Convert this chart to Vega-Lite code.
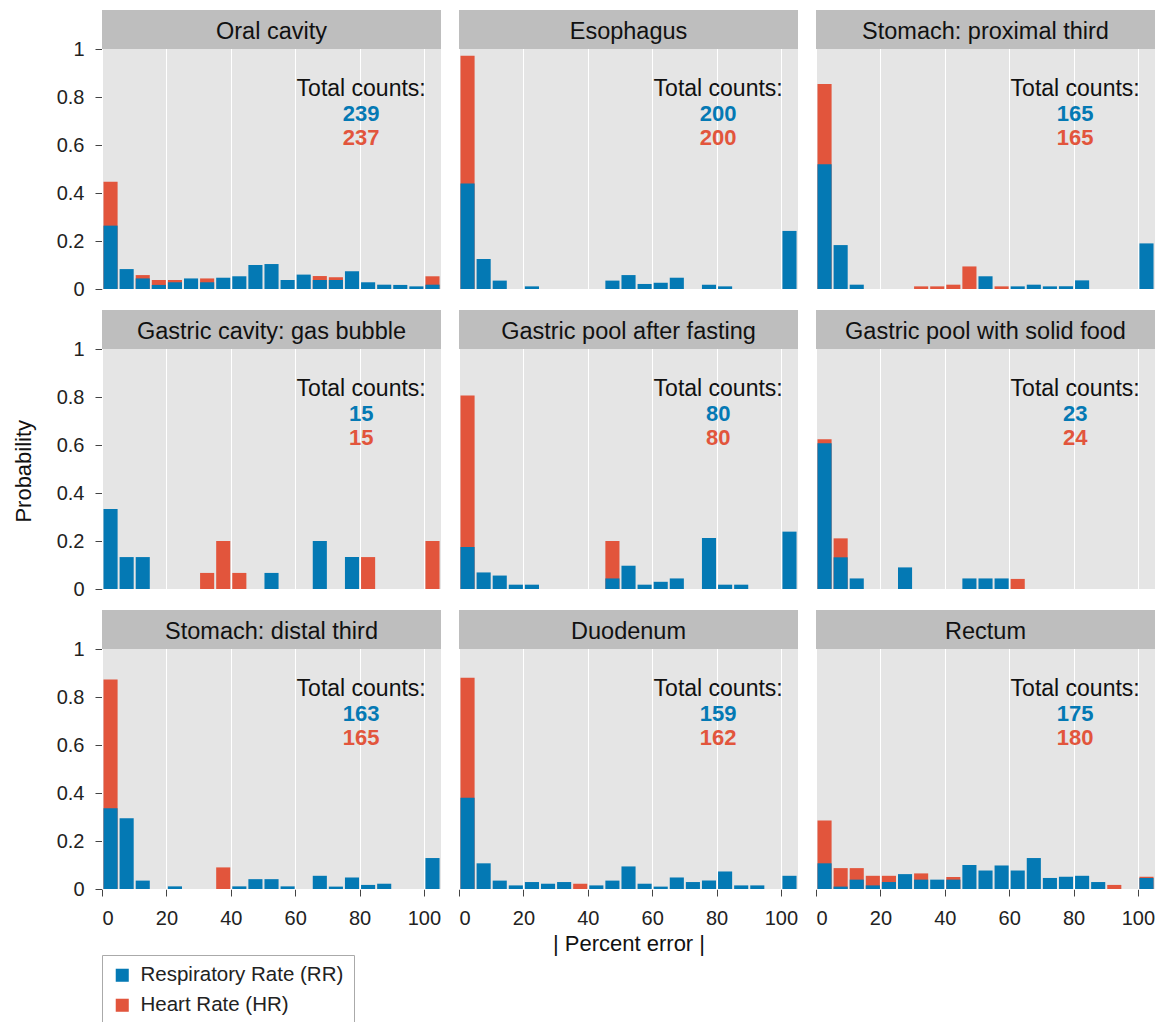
{
  "$schema": "https://vega.github.io/schema/vega-lite/v6.json",
  "padding": {"left": 13, "top": 10, "right": 0, "bottom": 0},
  "background": "white",
  "title": {"text": "Probability", "orient": "left", "anchor": "middle", "fontSize": 22, "fontWeight": "normal", "font": "Liberation Sans", "color": "#111", "offset": 20, "dx": 47},
  "data": {"values": [
    {"panel": "Oral cavity", "rr": 239, "hr": 237},
    {"panel": "Esophagus", "rr": 200, "hr": 200},
    {"panel": "Stomach: proximal third", "rr": 165, "hr": 165},
    {"panel": "Gastric cavity: gas bubble", "rr": 15, "hr": 15},
    {"panel": "Gastric pool after fasting", "rr": 80, "hr": 80},
    {"panel": "Gastric pool with solid food", "rr": 23, "hr": 24},
    {"panel": "Stomach: distal third", "rr": 163, "hr": 165},
    {"panel": "Duodenum", "rr": 159, "hr": 162},
    {"panel": "Rectum", "rr": 175, "hr": 180},

    {"panel": "Oral cavity", "s": "HR", "b": 0, "e": 5, "p": 0.447},
    {"panel": "Oral cavity", "s": "HR", "b": 10, "e": 15, "p": 0.058},
    {"panel": "Oral cavity", "s": "HR", "b": 15, "e": 20, "p": 0.0375},
    {"panel": "Oral cavity", "s": "HR", "b": 20, "e": 25, "p": 0.0375},
    {"panel": "Oral cavity", "s": "HR", "b": 30, "e": 35, "p": 0.044},
    {"panel": "Oral cavity", "s": "HR", "b": 65, "e": 70, "p": 0.054},
    {"panel": "Oral cavity", "s": "HR", "b": 70, "e": 75, "p": 0.049},
    {"panel": "Oral cavity", "s": "HR", "b": 100, "e": 105, "p": 0.053},
    {"panel": "Oral cavity", "s": "RR", "b": 0, "e": 5, "p": 0.264},
    {"panel": "Oral cavity", "s": "RR", "b": 5, "e": 10, "p": 0.083},
    {"panel": "Oral cavity", "s": "RR", "b": 10, "e": 15, "p": 0.044},
    {"panel": "Oral cavity", "s": "RR", "b": 15, "e": 20, "p": 0.017},
    {"panel": "Oral cavity", "s": "RR", "b": 20, "e": 25, "p": 0.028},
    {"panel": "Oral cavity", "s": "RR", "b": 25, "e": 30, "p": 0.044},
    {"panel": "Oral cavity", "s": "RR", "b": 30, "e": 35, "p": 0.028},
    {"panel": "Oral cavity", "s": "RR", "b": 35, "e": 40, "p": 0.047},
    {"panel": "Oral cavity", "s": "RR", "b": 40, "e": 45, "p": 0.053},
    {"panel": "Oral cavity", "s": "RR", "b": 45, "e": 50, "p": 0.1},
    {"panel": "Oral cavity", "s": "RR", "b": 50, "e": 55, "p": 0.104},
    {"panel": "Oral cavity", "s": "RR", "b": 55, "e": 60, "p": 0.0375},
    {"panel": "Oral cavity", "s": "RR", "b": 60, "e": 65, "p": 0.06},
    {"panel": "Oral cavity", "s": "RR", "b": 65, "e": 70, "p": 0.0375},
    {"panel": "Oral cavity", "s": "RR", "b": 70, "e": 75, "p": 0.0375},
    {"panel": "Oral cavity", "s": "RR", "b": 75, "e": 80, "p": 0.074},
    {"panel": "Oral cavity", "s": "RR", "b": 80, "e": 85, "p": 0.028},
    {"panel": "Oral cavity", "s": "RR", "b": 85, "e": 90, "p": 0.018},
    {"panel": "Oral cavity", "s": "RR", "b": 90, "e": 95, "p": 0.017},
    {"panel": "Oral cavity", "s": "RR", "b": 95, "e": 100, "p": 0.011},
    {"panel": "Oral cavity", "s": "RR", "b": 100, "e": 105, "p": 0.018},

    {"panel": "Esophagus", "s": "HR", "b": 0, "e": 5, "p": 0.972},
    {"panel": "Esophagus", "s": "RR", "b": 0, "e": 5, "p": 0.44},
    {"panel": "Esophagus", "s": "RR", "b": 5, "e": 10, "p": 0.125},
    {"panel": "Esophagus", "s": "RR", "b": 10, "e": 15, "p": 0.035},
    {"panel": "Esophagus", "s": "RR", "b": 20, "e": 25, "p": 0.011},
    {"panel": "Esophagus", "s": "RR", "b": 45, "e": 50, "p": 0.035},
    {"panel": "Esophagus", "s": "RR", "b": 50, "e": 55, "p": 0.058},
    {"panel": "Esophagus", "s": "RR", "b": 55, "e": 60, "p": 0.021},
    {"panel": "Esophagus", "s": "RR", "b": 60, "e": 65, "p": 0.026},
    {"panel": "Esophagus", "s": "RR", "b": 65, "e": 70, "p": 0.047},
    {"panel": "Esophagus", "s": "RR", "b": 75, "e": 80, "p": 0.018},
    {"panel": "Esophagus", "s": "RR", "b": 80, "e": 85, "p": 0.011},
    {"panel": "Esophagus", "s": "RR", "b": 100, "e": 105, "p": 0.242},

    {"panel": "Stomach: proximal third", "s": "HR", "b": 0, "e": 5, "p": 0.854},
    {"panel": "Stomach: proximal third", "s": "HR", "b": 30, "e": 35, "p": 0.011},
    {"panel": "Stomach: proximal third", "s": "HR", "b": 35, "e": 40, "p": 0.011},
    {"panel": "Stomach: proximal third", "s": "HR", "b": 40, "e": 45, "p": 0.018},
    {"panel": "Stomach: proximal third", "s": "HR", "b": 45, "e": 50, "p": 0.094},
    {"panel": "Stomach: proximal third", "s": "HR", "b": 55, "e": 60, "p": 0.011},
    {"panel": "Stomach: proximal third", "s": "RR", "b": 0, "e": 5, "p": 0.52},
    {"panel": "Stomach: proximal third", "s": "RR", "b": 5, "e": 10, "p": 0.183},
    {"panel": "Stomach: proximal third", "s": "RR", "b": 10, "e": 15, "p": 0.018},
    {"panel": "Stomach: proximal third", "s": "RR", "b": 50, "e": 55, "p": 0.053},
    {"panel": "Stomach: proximal third", "s": "RR", "b": 60, "e": 65, "p": 0.011},
    {"panel": "Stomach: proximal third", "s": "RR", "b": 65, "e": 70, "p": 0.018},
    {"panel": "Stomach: proximal third", "s": "RR", "b": 70, "e": 75, "p": 0.011},
    {"panel": "Stomach: proximal third", "s": "RR", "b": 75, "e": 80, "p": 0.011},
    {"panel": "Stomach: proximal third", "s": "RR", "b": 80, "e": 85, "p": 0.036},
    {"panel": "Stomach: proximal third", "s": "RR", "b": 100, "e": 105, "p": 0.19},

    {"panel": "Gastric cavity: gas bubble", "s": "HR", "b": 30, "e": 35, "p": 0.067},
    {"panel": "Gastric cavity: gas bubble", "s": "HR", "b": 35, "e": 40, "p": 0.2},
    {"panel": "Gastric cavity: gas bubble", "s": "HR", "b": 40, "e": 45, "p": 0.067},
    {"panel": "Gastric cavity: gas bubble", "s": "HR", "b": 80, "e": 85, "p": 0.133},
    {"panel": "Gastric cavity: gas bubble", "s": "HR", "b": 100, "e": 105, "p": 0.2},
    {"panel": "Gastric cavity: gas bubble", "s": "RR", "b": 0, "e": 5, "p": 0.333},
    {"panel": "Gastric cavity: gas bubble", "s": "RR", "b": 5, "e": 10, "p": 0.133},
    {"panel": "Gastric cavity: gas bubble", "s": "RR", "b": 10, "e": 15, "p": 0.133},
    {"panel": "Gastric cavity: gas bubble", "s": "RR", "b": 50, "e": 55, "p": 0.067},
    {"panel": "Gastric cavity: gas bubble", "s": "RR", "b": 65, "e": 70, "p": 0.2},
    {"panel": "Gastric cavity: gas bubble", "s": "RR", "b": 75, "e": 80, "p": 0.133},

    {"panel": "Gastric pool after fasting", "s": "HR", "b": 0, "e": 5, "p": 0.806},
    {"panel": "Gastric pool after fasting", "s": "HR", "b": 45, "e": 50, "p": 0.2},
    {"panel": "Gastric pool after fasting", "s": "RR", "b": 0, "e": 5, "p": 0.175},
    {"panel": "Gastric pool after fasting", "s": "RR", "b": 5, "e": 10, "p": 0.069},
    {"panel": "Gastric pool after fasting", "s": "RR", "b": 10, "e": 15, "p": 0.056},
    {"panel": "Gastric pool after fasting", "s": "RR", "b": 15, "e": 20, "p": 0.018},
    {"panel": "Gastric pool after fasting", "s": "RR", "b": 20, "e": 25, "p": 0.018},
    {"panel": "Gastric pool after fasting", "s": "RR", "b": 45, "e": 50, "p": 0.044},
    {"panel": "Gastric pool after fasting", "s": "RR", "b": 50, "e": 55, "p": 0.097},
    {"panel": "Gastric pool after fasting", "s": "RR", "b": 55, "e": 60, "p": 0.018},
    {"panel": "Gastric pool after fasting", "s": "RR", "b": 60, "e": 65, "p": 0.03},
    {"panel": "Gastric pool after fasting", "s": "RR", "b": 65, "e": 70, "p": 0.044},
    {"panel": "Gastric pool after fasting", "s": "RR", "b": 75, "e": 80, "p": 0.2125},
    {"panel": "Gastric pool after fasting", "s": "RR", "b": 80, "e": 85, "p": 0.018},
    {"panel": "Gastric pool after fasting", "s": "RR", "b": 85, "e": 90, "p": 0.018},
    {"panel": "Gastric pool after fasting", "s": "RR", "b": 100, "e": 105, "p": 0.239},

    {"panel": "Gastric pool with solid food", "s": "HR", "b": 0, "e": 5, "p": 0.624},
    {"panel": "Gastric pool with solid food", "s": "HR", "b": 5, "e": 10, "p": 0.211},
    {"panel": "Gastric pool with solid food", "s": "HR", "b": 60, "e": 65, "p": 0.042},
    {"panel": "Gastric pool with solid food", "s": "RR", "b": 0, "e": 5, "p": 0.607},
    {"panel": "Gastric pool with solid food", "s": "RR", "b": 5, "e": 10, "p": 0.132},
    {"panel": "Gastric pool with solid food", "s": "RR", "b": 10, "e": 15, "p": 0.044},
    {"panel": "Gastric pool with solid food", "s": "RR", "b": 25, "e": 30, "p": 0.09},
    {"panel": "Gastric pool with solid food", "s": "RR", "b": 45, "e": 50, "p": 0.044},
    {"panel": "Gastric pool with solid food", "s": "RR", "b": 50, "e": 55, "p": 0.044},
    {"panel": "Gastric pool with solid food", "s": "RR", "b": 55, "e": 60, "p": 0.044},

    {"panel": "Stomach: distal third", "s": "HR", "b": 0, "e": 5, "p": 0.873},
    {"panel": "Stomach: distal third", "s": "HR", "b": 35, "e": 40, "p": 0.09},
    {"panel": "Stomach: distal third", "s": "RR", "b": 0, "e": 5, "p": 0.336},
    {"panel": "Stomach: distal third", "s": "RR", "b": 5, "e": 10, "p": 0.295},
    {"panel": "Stomach: distal third", "s": "RR", "b": 10, "e": 15, "p": 0.035},
    {"panel": "Stomach: distal third", "s": "RR", "b": 20, "e": 25, "p": 0.011},
    {"panel": "Stomach: distal third", "s": "RR", "b": 40, "e": 45, "p": 0.011},
    {"panel": "Stomach: distal third", "s": "RR", "b": 45, "e": 50, "p": 0.041},
    {"panel": "Stomach: distal third", "s": "RR", "b": 50, "e": 55, "p": 0.041},
    {"panel": "Stomach: distal third", "s": "RR", "b": 55, "e": 60, "p": 0.011},
    {"panel": "Stomach: distal third", "s": "RR", "b": 65, "e": 70, "p": 0.055},
    {"panel": "Stomach: distal third", "s": "RR", "b": 70, "e": 75, "p": 0.01},
    {"panel": "Stomach: distal third", "s": "RR", "b": 75, "e": 80, "p": 0.048},
    {"panel": "Stomach: distal third", "s": "RR", "b": 80, "e": 85, "p": 0.017},
    {"panel": "Stomach: distal third", "s": "RR", "b": 85, "e": 90, "p": 0.022},
    {"panel": "Stomach: distal third", "s": "RR", "b": 100, "e": 105, "p": 0.129},

    {"panel": "Duodenum", "s": "HR", "b": 0, "e": 5, "p": 0.88},
    {"panel": "Duodenum", "s": "HR", "b": 35, "e": 40, "p": 0.022},
    {"panel": "Duodenum", "s": "RR", "b": 0, "e": 5, "p": 0.38},
    {"panel": "Duodenum", "s": "RR", "b": 5, "e": 10, "p": 0.107},
    {"panel": "Duodenum", "s": "RR", "b": 10, "e": 15, "p": 0.035},
    {"panel": "Duodenum", "s": "RR", "b": 15, "e": 20, "p": 0.015},
    {"panel": "Duodenum", "s": "RR", "b": 20, "e": 25, "p": 0.029},
    {"panel": "Duodenum", "s": "RR", "b": 25, "e": 30, "p": 0.022},
    {"panel": "Duodenum", "s": "RR", "b": 30, "e": 35, "p": 0.029},
    {"panel": "Duodenum", "s": "RR", "b": 40, "e": 45, "p": 0.015},
    {"panel": "Duodenum", "s": "RR", "b": 45, "e": 50, "p": 0.035},
    {"panel": "Duodenum", "s": "RR", "b": 50, "e": 55, "p": 0.094},
    {"panel": "Duodenum", "s": "RR", "b": 55, "e": 60, "p": 0.022},
    {"panel": "Duodenum", "s": "RR", "b": 60, "e": 65, "p": 0.01},
    {"panel": "Duodenum", "s": "RR", "b": 65, "e": 70, "p": 0.048},
    {"panel": "Duodenum", "s": "RR", "b": 70, "e": 75, "p": 0.029},
    {"panel": "Duodenum", "s": "RR", "b": 75, "e": 80, "p": 0.035},
    {"panel": "Duodenum", "s": "RR", "b": 80, "e": 85, "p": 0.073},
    {"panel": "Duodenum", "s": "RR", "b": 85, "e": 90, "p": 0.015},
    {"panel": "Duodenum", "s": "RR", "b": 90, "e": 95, "p": 0.015},
    {"panel": "Duodenum", "s": "RR", "b": 100, "e": 105, "p": 0.055},

    {"panel": "Rectum", "s": "HR", "b": 0, "e": 5, "p": 0.285},
    {"panel": "Rectum", "s": "HR", "b": 5, "e": 10, "p": 0.087},
    {"panel": "Rectum", "s": "HR", "b": 10, "e": 15, "p": 0.087},
    {"panel": "Rectum", "s": "HR", "b": 15, "e": 20, "p": 0.055},
    {"panel": "Rectum", "s": "HR", "b": 20, "e": 25, "p": 0.055},
    {"panel": "Rectum", "s": "HR", "b": 30, "e": 35, "p": 0.065},
    {"panel": "Rectum", "s": "HR", "b": 40, "e": 45, "p": 0.05},
    {"panel": "Rectum", "s": "HR", "b": 90, "e": 95, "p": 0.017},
    {"panel": "Rectum", "s": "HR", "b": 100, "e": 105, "p": 0.051},
    {"panel": "Rectum", "s": "RR", "b": 0, "e": 5, "p": 0.107},
    {"panel": "Rectum", "s": "RR", "b": 5, "e": 10, "p": 0.01},
    {"panel": "Rectum", "s": "RR", "b": 10, "e": 15, "p": 0.039},
    {"panel": "Rectum", "s": "RR", "b": 15, "e": 20, "p": 0.015},
    {"panel": "Rectum", "s": "RR", "b": 20, "e": 25, "p": 0.029},
    {"panel": "Rectum", "s": "RR", "b": 25, "e": 30, "p": 0.062},
    {"panel": "Rectum", "s": "RR", "b": 30, "e": 35, "p": 0.039},
    {"panel": "Rectum", "s": "RR", "b": 35, "e": 40, "p": 0.039},
    {"panel": "Rectum", "s": "RR", "b": 40, "e": 45, "p": 0.039},
    {"panel": "Rectum", "s": "RR", "b": 45, "e": 50, "p": 0.1},
    {"panel": "Rectum", "s": "RR", "b": 50, "e": 55, "p": 0.077},
    {"panel": "Rectum", "s": "RR", "b": 55, "e": 60, "p": 0.098},
    {"panel": "Rectum", "s": "RR", "b": 60, "e": 65, "p": 0.077},
    {"panel": "Rectum", "s": "RR", "b": 65, "e": 70, "p": 0.129},
    {"panel": "Rectum", "s": "RR", "b": 70, "e": 75, "p": 0.046},
    {"panel": "Rectum", "s": "RR", "b": 75, "e": 80, "p": 0.051},
    {"panel": "Rectum", "s": "RR", "b": 80, "e": 85, "p": 0.055},
    {"panel": "Rectum", "s": "RR", "b": 85, "e": 90, "p": 0.029},
    {"panel": "Rectum", "s": "RR", "b": 100, "e": 105, "p": 0.046}
  ]},
  "facet": {
    "field": "panel",
    "type": "nominal",
    "sort": ["Oral cavity", "Esophagus", "Stomach: proximal third", "Gastric cavity: gas bubble", "Gastric pool after fasting", "Gastric pool with solid food", "Stomach: distal third", "Duodenum", "Rectum"],
    "header": {"labels": false, "labelExpr": "''", "labelFontSize": 0, "labelPadding": 0, "title": "| Percent error |", "titleOrient": "bottom", "titleFontSize": 22, "titleFontWeight": "normal", "titleFont": "Liberation Sans", "titleColor": "#111", "titlePadding": 6}
  },
  "columns": 3,
  "spacing": {"row": 21, "column": 18},
  "spec": {
    "width": 339,
    "height": 279,
    "layer": [
      {
        "transform": [{"filter": "isValid(datum.rr)"}],
        "mark": {"type": "rect", "color": "#BEBEBE"},
        "encoding": {
          "x": {"datum": 0, "type": "quantitative"},
          "x2": {"datum": 105.3},
          "y": {"datum": 1, "type": "quantitative"},
          "y2": {"datum": 1.1625}
        }
      },
      {
        "transform": [{"filter": "isValid(datum.rr)"}],
        "mark": {"type": "text", "fontSize": 23.5, "font": "Liberation Sans", "color": "#111", "baseline": "middle", "align": "center"},
        "encoding": {
          "x": {"datum": 52.65, "type": "quantitative"},
          "y": {"datum": 1.072, "type": "quantitative"},
          "text": {"field": "panel"}
        }
      },
      {
        "transform": [{"filter": "datum.s == 'HR'"}],
        "mark": {"type": "bar", "binSpacing": 2},
        "encoding": {
          "x": {"field": "b", "bin": {"binned": true, "step": 5}, "type": "quantitative",
                "scale": {"domain": [0, 105.3], "nice": false, "zero": false},
                "axis": {"values": [0, 20, 40, 60, 80, 100], "title": null, "grid": true}},
          "x2": {"field": "e"},
          "y": {"field": "p", "type": "quantitative", "stack": null,
                "scale": {"domain": [0, 1.1625], "nice": false},
                "axis": {"values": [0, 0.2, 0.4, 0.6, 0.8, 1], "format": "~g", "title": null}},
          "color": {"field": "s", "type": "nominal"}
        }
      },
      {
        "transform": [{"filter": "datum.s == 'RR'"}],
        "mark": {"type": "bar", "binSpacing": 2},
        "encoding": {
          "x": {"field": "b", "bin": {"binned": true, "step": 5}, "type": "quantitative"},
          "x2": {"field": "e"},
          "y": {"field": "p", "type": "quantitative", "stack": null},
          "color": {"field": "s", "type": "nominal",
                    "scale": {"domain": ["RR", "HR"], "range": ["#0479B4", "#E2553C"]},
                    "legend": {"title": null, "orient": "bottom", "direction": "vertical",
                               "labelExpr": "datum.label == 'RR' ? 'Respiratory Rate (RR)' : 'Heart Rate (HR)'"}}
        }
      },
      {
        "transform": [{"filter": "isValid(datum.rr)"}],
        "mark": {"type": "text", "text": "Total counts:", "fontSize": 23, "font": "Liberation Sans", "color": "#111", "baseline": "alphabetic", "align": "center"},
        "encoding": {
          "x": {"datum": 80.5, "type": "quantitative"},
          "y": {"datum": 0.805, "type": "quantitative"}
        }
      },
      {
        "transform": [{"filter": "isValid(datum.rr)"}],
        "mark": {"type": "text", "fontSize": 22, "font": "Liberation Sans", "fontWeight": "bold", "color": "#0479B4", "baseline": "alphabetic", "align": "center"},
        "encoding": {
          "x": {"datum": 80.5, "type": "quantitative"},
          "y": {"datum": 0.702, "type": "quantitative"},
          "text": {"field": "rr"}
        }
      },
      {
        "transform": [{"filter": "isValid(datum.rr)"}],
        "mark": {"type": "text", "fontSize": 22, "font": "Liberation Sans", "fontWeight": "bold", "color": "#E2553C", "baseline": "alphabetic", "align": "center"},
        "encoding": {
          "x": {"datum": 80.5, "type": "quantitative"},
          "y": {"datum": 0.602, "type": "quantitative"},
          "text": {"field": "hr"}
        }
      }
    ]
  },
  "config": {
    "font": "Liberation Sans",
    "header": {"labels": false},
    "view": {"fill": "#E5E5E5", "stroke": null},
    "axis": {"domain": false, "gridColor": "#FFFFFF", "gridWidth": 1, "tickColor": "#444", "tickSize": 7, "labelFontSize": 20, "labelColor": "#222", "labelFont": "Liberation Sans", "labelPadding": 11},
    "axisX": {"labelPadding": 12},
    "legend": {"strokeColor": "#AAAAAA", "padding": 10, "symbolType": "square", "symbolSize": 170, "symbolStrokeWidth": 0, "labelFontSize": 20.5, "labelFont": "Liberation Sans", "labelColor": "#222", "labelLimit": 400, "rowPadding": 9, "offset": 0, "labelOffset": 8}
  }
}
